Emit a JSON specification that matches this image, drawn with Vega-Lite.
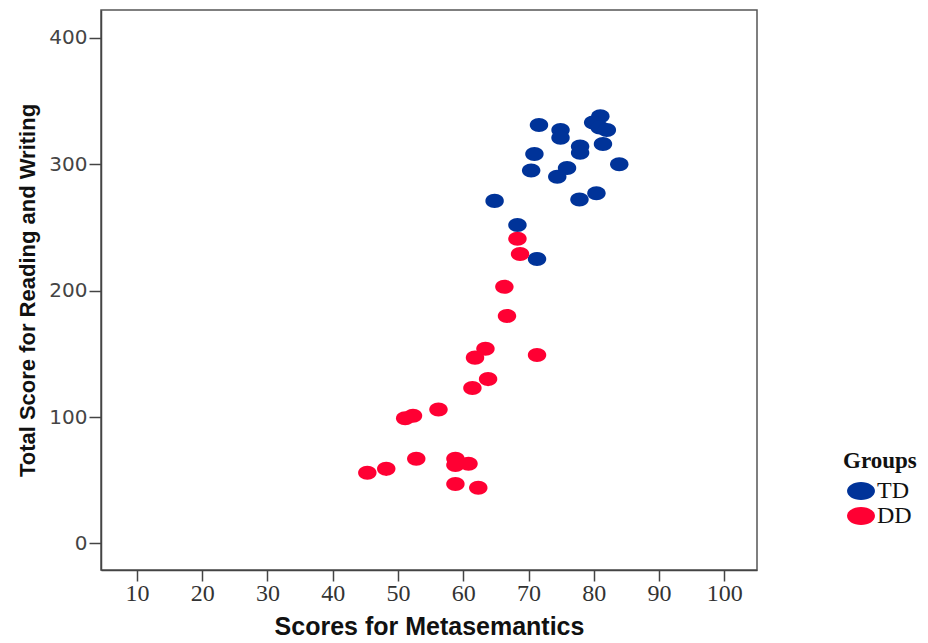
{
  "$schema": "https://vega.github.io/schema/vega-lite/v6.json",
  "autosize": "none",
  "width": 656,
  "height": 560,
  "padding": {"left": 101, "top": 10, "right": 171, "bottom": 73},
  "background": "white",
  "config": {
    "view": {"stroke": "#555555", "strokeWidth": 1.5}
  },
  "data": {
    "values": [
      {"meta": 71.6, "total": 331, "group": "TD"},
      {"meta": 74.9, "total": 327, "group": "TD"},
      {"meta": 74.9, "total": 321, "group": "TD"},
      {"meta": 81.0, "total": 338, "group": "TD"},
      {"meta": 79.9, "total": 333, "group": "TD"},
      {"meta": 80.9, "total": 329, "group": "TD"},
      {"meta": 82.0, "total": 327, "group": "TD"},
      {"meta": 70.9, "total": 308, "group": "TD"},
      {"meta": 77.9, "total": 314, "group": "TD"},
      {"meta": 77.9, "total": 309, "group": "TD"},
      {"meta": 81.4, "total": 316, "group": "TD"},
      {"meta": 70.4, "total": 295, "group": "TD"},
      {"meta": 75.9, "total": 297, "group": "TD"},
      {"meta": 74.4, "total": 290, "group": "TD"},
      {"meta": 83.9, "total": 300, "group": "TD"},
      {"meta": 80.4, "total": 277, "group": "TD"},
      {"meta": 77.8, "total": 272, "group": "TD"},
      {"meta": 64.8, "total": 271, "group": "TD"},
      {"meta": 68.3, "total": 252, "group": "TD"},
      {"meta": 71.3, "total": 225, "group": "TD"},
      {"meta": 68.3, "total": 241, "group": "DD"},
      {"meta": 68.7, "total": 229, "group": "DD"},
      {"meta": 66.3, "total": 203, "group": "DD"},
      {"meta": 66.7, "total": 180, "group": "DD"},
      {"meta": 63.4, "total": 154, "group": "DD"},
      {"meta": 61.8, "total": 147, "group": "DD"},
      {"meta": 71.3, "total": 149, "group": "DD"},
      {"meta": 63.8, "total": 130, "group": "DD"},
      {"meta": 61.4, "total": 123, "group": "DD"},
      {"meta": 56.2, "total": 106, "group": "DD"},
      {"meta": 52.3, "total": 101, "group": "DD"},
      {"meta": 51.1, "total": 99, "group": "DD"},
      {"meta": 52.8, "total": 67, "group": "DD"},
      {"meta": 58.8, "total": 67, "group": "DD"},
      {"meta": 58.8, "total": 62, "group": "DD"},
      {"meta": 60.8, "total": 63, "group": "DD"},
      {"meta": 48.2, "total": 59, "group": "DD"},
      {"meta": 45.3, "total": 56, "group": "DD"},
      {"meta": 58.8, "total": 47, "group": "DD"},
      {"meta": 62.3, "total": 44, "group": "DD"}
    ]
  },
  "mark": {
    "type": "point",
    "filled": true,
    "opacity": 1,
    "size": 340,
    "shape": "M-1,0A1,0.76,0,1,1,1,0A1,0.76,0,1,1,-1,0Z"
  },
  "encoding": {
    "x": {
      "field": "meta",
      "type": "quantitative",
      "title": "Scores for Metasemantics",
      "scale": {"domain": [4.5, 105], "nice": false, "zero": false},
      "axis": {
        "values": [10, 20, 30, 40, 50, 60, 70, 80, 90, 100],
        "grid": false,
        "domainColor": "#444444",
        "domainWidth": 1.5,
        "tickColor": "#444444",
        "tickWidth": 1.5,
        "tickSize": 11,
        "labelFont": "Liberation Serif",
        "labelFontSize": 24,
        "labelColor": "#333333",
        "labelPadding": 0,
        "titleFont": "Liberation Sans",
        "titleFontSize": 25,
        "titleFontWeight": "bold",
        "titleColor": "#111111",
        "titlePadding": 9
      }
    },
    "y": {
      "field": "total",
      "type": "quantitative",
      "title": "Total Score for Reading and Writing",
      "scale": {"domain": [-21, 422], "nice": false, "zero": false},
      "axis": {
        "values": [0, 100, 200, 300, 400],
        "grid": false,
        "domainColor": "#444444",
        "domainWidth": 1.5,
        "tickColor": "#444444",
        "tickWidth": 1.5,
        "tickSize": 12,
        "labelFont": "DejaVu Sans",
        "labelFontSize": 20,
        "labelColor": "#444444",
        "labelPadding": 2,
        "titleFont": "Liberation Sans",
        "titleFontSize": 22,
        "titleFontWeight": "bold",
        "titleColor": "#111111",
        "titlePadding": 9
      }
    },
    "color": {
      "field": "group",
      "type": "nominal",
      "title": "Groups",
      "scale": {"domain": ["TD", "DD"], "range": ["#003399", "#ff0033"]},
      "legend": {
        "orient": "none",
        "legendX": 742,
        "legendY": 440,
        "titleFont": "Liberation Serif",
        "titleFontSize": 23,
        "titleFontWeight": "bold",
        "titleColor": "#111111",
        "titlePadding": 6,
        "labelFont": "Liberation Serif",
        "labelFontSize": 24,
        "labelColor": "#111111",
        "labelOffset": 4,
        "symbolType": "M-1.33,0A1.33,0.86,0,1,1,1.33,0A1.33,0.86,0,1,1,-1.33,0Z",
        "symbolSize": 441,
        "symbolOffset": 6,
        "symbolOpacity": 1,
        "symbolStrokeWidth": 0,
        "rowPadding": 1
      }
    }
  }
}
